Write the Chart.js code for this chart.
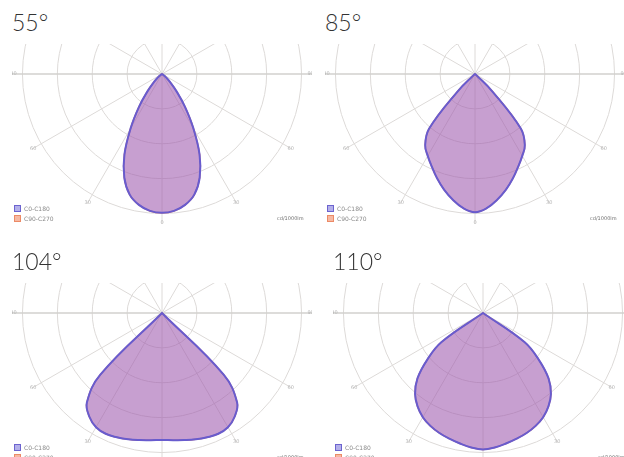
<!DOCTYPE html>
<html>
<head>
<meta charset="utf-8">
<script src="https://cdn.jsdelivr.net/npm/chart.js@4.4.0/dist/chart.umd.min.js"></script>
<style>
  html, body { margin: 0; padding: 0; background: #fff; width: 624px; height: 457px; overflow: hidden; }
  .panel { position: absolute; width: 312px; height: 239px; }
  .title { position: absolute; left: 12px; top: 11px; font: 300 23px Lato, sans-serif; line-height: 1; color: #333; }
  .plot { position: absolute; left: 12px; top: 44px; width: 300px; height: 184px; overflow: hidden; }
  .plot canvas { position: absolute; left: 0; top: -120px; }
  .legend { position: absolute; left: 14px; top: 205px; font: 6px 'DejaVu Sans', sans-serif; color: #8a8a8a; }
  .legend div { height: 10px; line-height: 8px; white-space: nowrap; }
  .legend span { display: inline-block; width: 5px; height: 5px; margin-right: 3px; vertical-align: -1px; }
  .unit { position: absolute; left: 277px; top: 215px; font: 5px 'DejaVu Sans', sans-serif; color: #6f6f6f; }
</style>
</head>
<body>
<script>
const gamma = [0, 5, 10, 15, 20, 25, 30, 35, 40, 45, 50, 55, 60, 65, 70, 75, 80, 85, 90];

// intensity, cd/1000lm — one half of each (symmetric) curve
const i55  = [398, 394, 381, 358, 316, 255, 180, 115, 65, 33, 15, 6, 2, 0, 0, 0, 0, 0, 0];
const i85  = [396, 386, 366, 343, 318, 293, 271, 249, 205, 70, 5, 0, 0, 0, 0, 0, 0, 0, 0];
const i104 = [364, 366, 370, 375, 379, 382, 378, 363, 335, 250, 0, 0, 0, 0, 0, 0, 0, 0, 0];
const i110 = [391, 387, 380, 373, 366, 357, 345, 327, 303, 266, 209, 145, 0, 0, 0, 0, 0, 0, 0];

const beamTitles = ['55°', '85°', '104°', '110°'];
const beamCurves = [i55, i85, i104, i110];
const planes = ['C0-C180', 'C90-C270'];
const spokeLabels = ['0', '30', '60', '90', '120', '150', '180', '150', '120', '90', '60', '30'];
const unitLabel = 'cd/1000lm';

const panelPos = [[0, 0], [313, 0], [0, 239], [321, 239]];
const STEP = 5;                      // degrees between radar labels
const N = 360 / STEP;

// full 360° ring: index 0 = nadir, going round through C180 side, back up C0 side
function ring(half) {
  const out = [];
  for (let i = 0; i < N; i++) {
    const g = i * STEP <= 180 ? i * STEP : 360 - i * STEP;
    const k = gamma.indexOf(g);
    out.push(k >= 0 ? half[k] : 0);
  }
  return out;
}

const ringLabels = [];
for (let i = 0; i < N; i++) ringLabels.push(String(i * STEP <= 180 ? i * STEP : 360 - i * STEP));

const spokeLabelPlugin = {
  id: 'spokeLabels',
  afterDraw(chart) {
    const r = chart.scales.r;
    const ctx = chart.ctx;
    ctx.save();
    ctx.font = '5px "DejaVu Sans"';
    ctx.fillStyle = '#b5b5b5';
    ctx.textAlign = 'center';
    ctx.textBaseline = 'middle';
    spokeLabels.forEach((txt, k) => {
      const p = r.getPointPositionForValue(k * 30 / STEP, r.max - 4);
      ctx.fillText(txt, p.x, p.y);
    });
    ctx.restore();
  }
};

beamTitles.forEach((title, n) => {
  const panel = document.createElement('div');
  panel.className = 'panel';
  panel.style.left = panelPos[n][0] + 'px';
  panel.style.top = panelPos[n][1] + 'px';
  panel.innerHTML = `
    <div class="title">${title}</div>
    <div class="plot"><canvas width="300" height="300"></canvas></div>
    <div class="legend">
      <div><span style="background:#b3b0ea;border:1px solid #6c63cf"></span>${planes[0]}</div>
      <div><span style="background:#f6b9a3;border:1px solid #ec8a66"></span>${planes[1]}</div>
    </div>
    <div class="unit">${unitLabel}</div>`;
  document.body.appendChild(panel);

  const data = ring(beamCurves[n]);
  new Chart(panel.querySelector('canvas'), {
    type: 'radar',
    data: {
      labels: ringLabels,
      datasets: [{
        label: planes[0],
        data: data,
        borderColor: 'rgb(104, 92, 206)',
        backgroundColor: 'rgba(110, 70, 230, 0.35)',
        borderWidth: 2,
        pointRadius: 0,
        fill: true,
        tension: 0.4
      }, {
        label: planes[1],
        data: data,
        borderColor: 'rgb(232, 120, 90)',
        backgroundColor: 'rgba(235, 120, 90, 0.35)',
        borderWidth: 1.5,
        pointRadius: 0,
        fill: true,
        tension: 0.4
      }]
    },
    options: {
      responsive: false,
      animation: false,
      layout: { padding: 0 },
      plugins: { legend: { display: false }, tooltip: { enabled: false } },
      scales: {
        r: {
          startAngle: 180,
          min: 0,
          max: 430,
          ticks: { display: false, stepSize: 100, includeBounds: false },
          pointLabels: { display: false },
          grid: { circular: true, color: '#dddad8', lineWidth: 1 },
          angleLines: {
            color: (ctx) => ctx.index % (30 / STEP) !== 0 ? 'rgba(0,0,0,0)'
              : (ctx.index * STEP) % 180 === 90 ? '#d2d0ce' : '#dddad8',
            lineWidth: (ctx) => (ctx.index * STEP) % 180 === 90 ? 1.5 : 1
          }
        }
      }
    },
    plugins: [spokeLabelPlugin]
  });
});
</script>
</body>
</html>
